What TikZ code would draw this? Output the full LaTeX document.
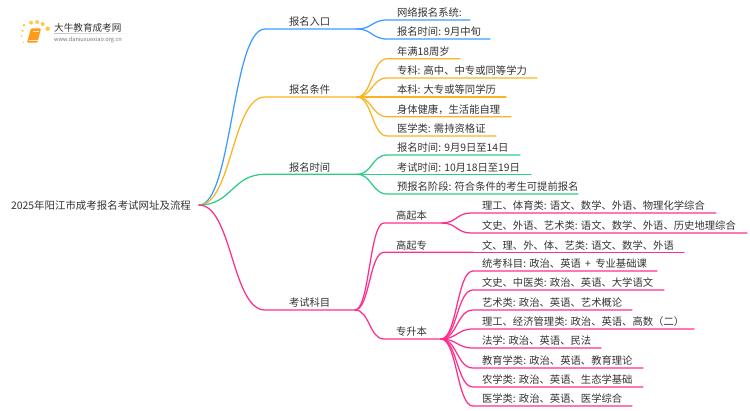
\documentclass[tikz,border=0pt]{standalone}
\usepackage{fontspec}
\setmainfont{Noto Sans CJK SC}
\usetikzlibrary{calc}
\definecolor{cblue}{HTML}{3D9BFF}
\definecolor{corange}{HTML}{FBB321}
\definecolor{cgreen}{HTML}{2ECC84}
\definecolor{cpink}{HTML}{FF2E8C}
\definecolor{ctext}{HTML}{333333}
\definecolor{cdot}{HTML}{FFC94D}
\definecolor{cbook}{HTML}{FF9A1A}
\tikzset{
  lbl/.style={anchor=base west,inner sep=0pt,outer sep=0pt,text=ctext,font=\fontsize{10.33pt}{12pt}\selectfont},
  conn/.style={line width=1.25pt,line cap=round},
}
% #1 colour, #2 parent, #3 name, #4 x start, #5 y, #6 x end, #7 x text, #8 text
\newcommand{\branch}[8]{%
  \node[lbl] (#3) at (#7,#5-3.3) {#8};
  \coordinate (#3-a) at (#4,#5);
  \coordinate (#3-b) at (#6,#5);
  \draw[conn,#1] (#2) .. controls ($(#2)!0.5!(#3-a |- #2)$) and ($(#3-a)!0.5!(#2 |- #3-a)$) .. (#3-a) -- (#3-b);
}
\begin{document}
\begin{tikzpicture}[x=1pt,y=-1pt]
\useasboundingbox (0,0) rectangle (750,410);
% logo
\foreach \px/\py/\pr in {23.3/42.3/0.8,21.7/36/1,22.7/30.7/1.2,24/25/1.5,31/22.7/2,37/22/2,42.7/24/2,47.7/28.7/2.3}
  \fill[cdot] (\px,\py) circle (\pr);
\fill[cbook,rounded corners=1pt] (31,28.3) -- (41,28.3) -- (37.5,42.7) -- (27,42.7) -- cycle;
\draw[white!80!cbook,line width=0.5pt] (29,39.8) -- (38,39.8);
\draw[white!70!cbook,line width=0.4pt] (33,31) -- (39,31);
\node[anchor=base west,inner sep=0pt,text=black!80,font=\fontsize{9.6pt}{11pt}\selectfont] (logoa) at (54,31) {大牛教育成考网};
\node[anchor=base west,inner sep=0pt,text=black!55,font=\fontsize{5.6pt}{6pt}\selectfont] (logob) at (54,41) {www.daniuxuexiao.org.cn};
\shade[left color=black!25,right color=white] (54,33.1) rectangle (133,33.6);
% root
\node[lbl,font=\fontsize{10.45pt}{12pt}\selectfont] (roottext) at (11,209.6) {2025年阳江市成考报名考试网址及流程};
\coordinate (root) at (199,205);
% level 1
\branch{cblue}{root}{a}{265}{29}{357}{289}{报名入口}
\branch{corange}{root}{b}{265}{97}{357}{289}{报名条件}
\branch{cgreen}{root}{c}{265}{174.3}{357}{289}{报名时间}
\branch{cpink}{root}{d}{265}{310}{355}{289}{考试科目}
% a
\branch{cblue}{a-b}{a1}{387}{20}{470}{397}{网络报名系统:}
\branch{cblue}{a-b}{a2}{387}{39}{490}{397}{报名时间: 9月中旬}
% b
\branch{corange}{b-b}{b1}{387}{58.7}{460}{397}{年满18周岁}
\branch{corange}{b-b}{b2}{387}{78}{537}{397}{专科: 高中、中专或同等学力}
\branch{corange}{b-b}{b3}{387}{97}{506}{397}{本科: 大专或等同学历}
\branch{corange}{b-b}{b4}{387}{116.7}{511}{397}{身体健康，生活能自理}
\branch{corange}{b-b}{b5}{387}{136}{496}{397}{医学类: 需持资格证}
% c
\branch{cgreen}{c-b}{c1}{387}{155}{520}{397}{报名时间: 9月9日至14日}
\branch{cgreen}{c-b}{c2}{387}{174.3}{531}{397}{考试时间: 10月18日至19日}
\branch{cgreen}{c-b}{c3}{387}{194}{578}{397}{预报名阶段: 符合条件的考生可提前报名}
% d
\branch{cpink}{d-b}{d1}{384}{223}{442}{396}{高起本}
\branch{cpink}{d-b}{d2}{384}{252.3}{473}{396}{高起专}
\branch{cpink}{d-b}{d3}{384}{339}{441}{396}{专升本}
% d1
\branch{cpink}{d1-b}{e1}{471}{213}{716}{482}{理工、体育类: 语文、数学、外语、物理化学综合}
\branch{cpink}{d1-b}{e2}{471}{233}{747}{482}{文史、外语、艺术类: 语文、数学、外语、历史地理综合}
% d2
\node[lbl] (f1) at (482,249) {文、理、外、体、艺类: 语文、数学、外语};
\coordinate (f1-b) at (684,252.3);
\draw[conn,cpink] (d2-b) -- (f1-b);
% d3
\branch{cpink}{d3-b}{g1}{473}{271}{657}{482}{统考科目: 政治、英语 \hspace{2pt}+\hspace{2pt} 专业基础课}
\branch{cpink}{d3-b}{g2}{473}{290}{664}{482}{文史、中医类: 政治、英语、大学语文}
\branch{cpink}{d3-b}{g3}{473}{310}{632}{482}{艺术类: 政治、英语、艺术概论}
\branch{cpink}{d3-b}{g4}{473}{329}{694}{482}{理工、经济管理类: 政治、英语、高数（二）}
\branch{cpink}{d3-b}{g5}{473}{348}{601}{482}{法学: 政治、英语、民法}
\branch{cpink}{d3-b}{g6}{473}{368}{643}{482}{教育学类: 政治、英语、教育理论}
\branch{cpink}{d3-b}{g7}{473}{387}{643}{482}{农学类: 政治、英语、生态学基础}
\branch{cpink}{d3-b}{g8}{473}{406}{632}{482}{医学类: 政治、英语、医学综合}
\end{tikzpicture}
\end{document}
